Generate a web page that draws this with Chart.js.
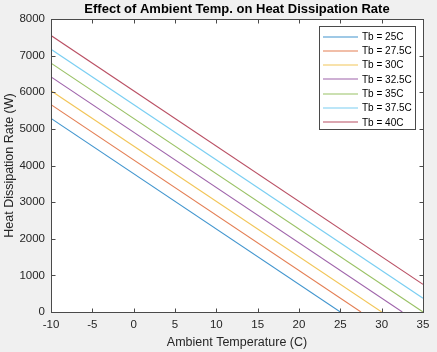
<!DOCTYPE html>
<html>
<head>
<meta charset="utf-8">
<script src="https://cdn.jsdelivr.net/npm/chart.js@4.4.1/dist/chart.umd.min.js"></script>
<style>
  html, body { margin: 0; padding: 0; background: #f0f0f0; }
  #wrap { width: 437px; height: 352px; }
</style>
</head>
<body>
<div id="wrap"><canvas id="heatChart" width="437" height="352"></canvas></div>
<script>
// base temperatures (legend) and line end points
const baseTemps = [25, 27.5, 30, 32.5, 35, 37.5, 40];
const startTemp = [-10, -10, -10, -10, -10, -10, -10];
const startHeat = [5285, 5663, 6040, 6418, 6795, 7173, 7550];
const endTemp = [25, 27.5, 30, 32.5, 35, 35, 35];
const endHeat = [0, 0, 0, 0, 0, 377, 755];
const lineColors = [
    'rgba(0,114,189,0.75)', 'rgba(217,83,25,0.75)', 'rgba(237,177,32,0.75)', 'rgba(126,47,142,0.75)',
    'rgba(119,172,48,0.75)', 'rgba(77,190,238,0.75)', 'rgba(162,20,47,0.75)'
];

const xTicks = [-10, -5, 0, 5, 10, 15, 20, 25, 30, 35];
const yTicks = [0, 1000, 2000, 3000, 4000, 5000, 6000, 7000, 8000];

const FONT = '"Liberation Sans", Arial, sans-serif';
const AXIS = '#4a4a4a';

const datasets = baseTemps.map((tb, i) => ({
    label: `Tb = ${tb}C`,
    data: [{ x: startTemp[i], y: startHeat[i] }, { x: endTemp[i], y: endHeat[i] }],
    borderColor: lineColors[i],
    borderWidth: 1.1,
    pointRadius: 0,
    fill: false,
    tension: 0
}));

// white plot area, box, inward ticks, title and legend
const matlabLook = {
    id: 'matlabLook',
    beforeDatasetsDraw(chart) {
        const { ctx, chartArea: a } = chart;
        ctx.save();
        ctx.fillStyle = '#ffffff';
        ctx.fillRect(a.left, a.top, a.right - a.left, a.bottom - a.top);
        ctx.restore();
    },
    afterDraw(chart) {
        const { ctx, chartArea: a, scales } = chart;
        const L = Math.round(a.left) + 0.5, R = Math.round(a.right) + 0.5;
        const T = Math.round(a.top) + 0.5, B = Math.round(a.bottom) + 0.5;
        ctx.save();
        ctx.strokeStyle = AXIS;
        ctx.lineWidth = 1;
        ctx.strokeRect(L, T, R - L, B - T);
        const tl = 4;
        ctx.beginPath();
        xTicks.forEach(v => {
            const px = Math.round(scales.x.getPixelForValue(v)) + 0.5;
            ctx.moveTo(px, B); ctx.lineTo(px, B - tl);
            ctx.moveTo(px, T); ctx.lineTo(px, T + tl);
        });
        yTicks.forEach(v => {
            const py = Math.round(scales.y.getPixelForValue(v)) + 0.5;
            ctx.moveTo(L, py); ctx.lineTo(L + tl, py);
            ctx.moveTo(R, py); ctx.lineTo(R - tl, py);
        });
        ctx.stroke();

        // title
        ctx.fillStyle = '#000000';
        ctx.font = `bold 13px ${FONT}`;
        ctx.textAlign = 'center';
        ctx.textBaseline = 'middle';
        ctx.fillText('Effect of Ambient Temp. on Heat Dissipation Rate', (a.left + a.right) / 2, 9);

        // legend
        const bx = 319.5, by = 26.5, bw = 96, bh = 103;
        ctx.fillStyle = '#ffffff';
        ctx.fillRect(bx, by, bw, bh);
        ctx.strokeStyle = '#4a4a4a';
        ctx.strokeRect(bx, by, bw, bh);
        ctx.font = `10px ${FONT}`;
        ctx.textAlign = 'left';
        ctx.fillStyle = '#000000';
        chart.data.datasets.forEach((ds, i) => {
            const y = 36.5 + i * 14.3;
            ctx.strokeStyle = ds.borderColor;
            ctx.lineWidth = 1.2;
            ctx.beginPath();
            ctx.moveTo(323, Math.round(y));
            ctx.lineTo(358, Math.round(y));
            ctx.stroke();
            ctx.fillText(ds.label, 362, y + 0.5);
        });
        ctx.restore();
    }
};

document.addEventListener('DOMContentLoaded', () => {
    const ctx = document.getElementById('heatChart').getContext('2d');
    new Chart(ctx, {
        type: 'line',
        data: { datasets: datasets },
        options: {
            responsive: false,
            animation: false,
            layout: { padding: { top: 19, right: 14, bottom: 0, left: 0 } },
            plugins: {
                legend: { display: false },
                title: { display: false },
                tooltip: { enabled: false }
            },
            scales: {
                x: {
                    type: 'linear',
                    min: -10,
                    max: 35,
                    afterBuildTicks: scale => { scale.ticks = xTicks.map(v => ({ value: v })); },
                    afterFit: scale => { scale.height = 40; },
                    grid: { display: false, drawTicks: false },
                    border: { display: false },
                    ticks: { color: '#262626', padding: 6, font: { family: FONT, size: 11.5 }, maxRotation: 0, callback: v => String(v) },
                    title: {
                        display: true,
                        text: 'Ambient Temperature (C)',
                        color: '#262626',
                        font: { family: FONT, size: 12.5 },
                        padding: { top: 0, bottom: 2 }
                    }
                },
                y: {
                    type: 'linear',
                    min: 0,
                    max: 8000,
                    afterBuildTicks: scale => { scale.ticks = yTicks.map(v => ({ value: v })); },
                    afterFit: scale => { scale.width = 51; },
                    grid: { display: false, drawTicks: false },
                    border: { display: false },
                    ticks: { color: '#262626', padding: 6, font: { family: FONT, size: 11.5 }, callback: v => String(v) },
                    title: {
                        display: true,
                        text: 'Heat Dissipation Rate (W)',
                        color: '#262626',
                        font: { family: FONT, size: 12.5 },
                        padding: { top: 2, bottom: 0 }
                    }
                }
            }
        },
        plugins: [matlabLook]
    });
});
</script>
</body>
</html>
